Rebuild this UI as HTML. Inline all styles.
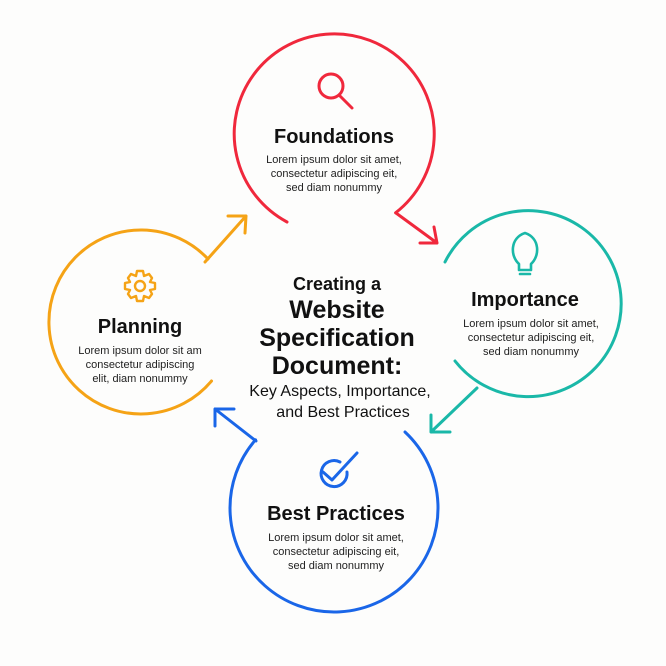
<!DOCTYPE html>
<html><head><meta charset="utf-8"><style>
html,body{margin:0;padding:0;background:#fdfdfc;}
svg{display:block;}
text{font-family:"Liberation Sans",sans-serif;fill:#111;}
.t{font-weight:bold;font-size:20px;text-anchor:middle;}
.b{font-size:11px;text-anchor:middle;fill:#222;}
</style></head><body>
<svg width="666" height="666" viewBox="0 0 666 666" fill="none" stroke-width="3" stroke-linecap="round" stroke-linejoin="round">
<!-- Foundations -->
<path d="M395.6 212.8 A100 100 0 1 0 287 222" stroke="#f0283c"/>
<path d="M396 213 L437 243 M420 243 L437 243 L434 227" stroke="#f0283c"/>
<circle cx="331" cy="86" r="12" stroke="#f0283c"/>
<line x1="339" y1="95" x2="352" y2="108" stroke="#f0283c"/>
<!-- Importance -->
<path d="M445 262 A93 93 0 1 1 455 361" stroke="#1ab8a8"/>
<path d="M477 388 L431 432 M431 415 L431 432 L450 432" stroke="#1ab8a8"/>
<path d="M519 264 C510 256 510 238 525 233 C540 238 540 256 531 264 L531 270 L519 270 Z" stroke="#1ab8a8" stroke-width="2.6"/>
<line x1="520" y1="274" x2="530" y2="274" stroke="#1ab8a8" stroke-width="2.6"/>
<!-- Best Practices -->
<path d="M405 432 A104 104 0 1 1 255.5 439.8" stroke="#1a66e8"/>
<path d="M256 441 L215 409 M215 426 L215 409 L234 409" stroke="#1a66e8"/>
<path d="M347 472 A13 13 0 1 1 340 462" stroke="#1a66e8"/>
<path d="M323 472 L332 480 L357 453" stroke="#1a66e8"/>
<!-- Planning -->
<path d="M211.5 381 A92 92 0 1 1 208 259" stroke="#f5a316"/>
<path d="M205 262 L246 216 M228 216 L246 216 L245 233" stroke="#f5a316"/>
<g transform="translate(140,286)" stroke="#f5a316" stroke-width="2.4">
<path d="M-3 -15 L3 -15 L4 -10 L9 -12 L12 -8 L10 -4 L15 -3 L15 3 L10 4 L12 8 L9 12 L4 10 L3 15 L-3 15 L-4 10 L-9 12 L-12 8 L-10 4 L-15 3 L-15 -3 L-10 -4 L-12 -8 L-9 -12 L-4 -10 Z"/>
<circle r="5"/>
</g>
<!-- text -->
<g stroke="none">
<text class="t" x="334" y="143">Foundations</text>
<text class="b" x="334" y="163">Lorem ipsum dolor sit amet,</text>
<text class="b" x="334" y="177">consectetur adipiscing eit,</text>
<text class="b" x="334" y="191">sed diam nonummy</text>

<text class="t" x="525" y="306">Importance</text>
<text class="b" x="531" y="327">Lorem ipsum dolor sit amet,</text>
<text class="b" x="531" y="341">consectetur adipiscing eit,</text>
<text class="b" x="531" y="355">sed diam nonummy</text>

<text class="t" x="336" y="520">Best Practices</text>
<text class="b" x="336" y="541">Lorem ipsum dolor sit amet,</text>
<text class="b" x="336" y="555">consectetur adipiscing eit,</text>
<text class="b" x="336" y="569">sed diam nonummy</text>

<text class="t" x="140" y="333">Planning</text>
<text class="b" x="140" y="354">Lorem ipsum dolor sit am</text>
<text class="b" x="140" y="368">consectetur adipiscing</text>
<text class="b" x="140" y="382">elit, diam nonummy</text>

<text x="337" y="290" style="font-weight:bold;font-size:18px;text-anchor:middle">Creating a</text>
<text x="337" y="318" style="font-weight:bold;font-size:25px;text-anchor:middle">Website</text>
<text x="337" y="346" style="font-weight:bold;font-size:25px;text-anchor:middle">Specification</text>
<text x="337" y="374" style="font-weight:bold;font-size:25px;text-anchor:middle">Document:</text>
<text x="340" y="396" style="font-size:16px;text-anchor:middle">Key Aspects, Importance,</text>
<text x="343" y="417" style="font-size:16px;text-anchor:middle">and Best Practices</text>
</g>
</svg>
</body></html>
